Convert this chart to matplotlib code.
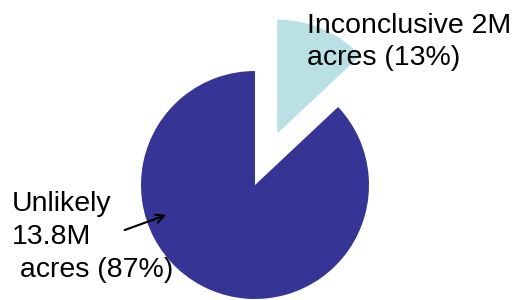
import matplotlib.pyplot as plt

# acreage split (percent)
categories = ["Inconclusive", "Unlikely"]
shares = [13, 87]
label_texts = ["Inconclusive 2M\nacres (13%)", "Unlikely\n13.8M\n acres (87%)"]
colors = ["#b9e0e3", "#363596"]

plt.rcParams['font.family'] = ['Liberation Sans', 'DejaVu Sans']

fig = plt.figure(figsize=(5.22, 3.0), dpi=100)
ax = fig.add_axes([0, 0, 1, 1])

# pixel-like coordinates, y up
ax.pie(shares, colors=colors, startangle=90, counterclock=False,
       explode=[56, 0], center=(255, 115), radius=114,
       wedgeprops=dict(linewidth=0))

ax.set_xlim(0, 522)
ax.set_ylim(0, 300)
ax.set_aspect('equal')
ax.axis('off')

# baseline alignment refers to the last line of each label
ax.text(307, 235, label_texts[0], fontsize=20.5, va='baseline', ha='left',
        linespacing=1.28)
ax.text(12, 23, label_texts[1], fontsize=20.5, va='baseline', ha='left',
        linespacing=1.35)
ax.annotate("", xy=(169, 86), xytext=(122, 69),
            arrowprops=dict(arrowstyle='->', color='black', lw=1.5,
                            mutation_scale=15))

fig.savefig("out.png", dpi=100)
